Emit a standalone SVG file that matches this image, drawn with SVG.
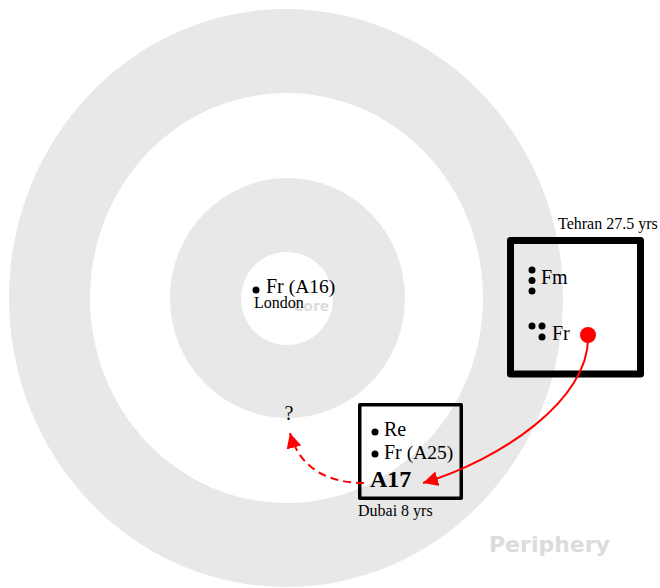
<svg xmlns="http://www.w3.org/2000/svg" width="660" height="588" viewBox="0 0 660 588">
  <style>
    .serif { font-family: "Liberation Serif", "Times New Roman", serif; fill: #000; }
    .lbl { font-size: 20px; }
    .sub { font-size: 19.5px; }
    .small { font-size: 16px; }
    .zone { font-family: "DejaVu Sans", "Liberation Sans", sans-serif; font-weight: bold; fill: #dcdcdc; }
    .box { fill: none; stroke: #000; stroke-linejoin: round; }
  </style>
  <defs>
    <marker id="arr" markerUnits="userSpaceOnUse" markerWidth="16" markerHeight="16" viewBox="0 0 16 16" refX="15" refY="8" orient="auto">
      <path d="M0,0.5 L15,8 L0,15.5 z" fill="#f00"/>
    </marker>
  </defs>
  <rect width="660" height="588" fill="#fff"/>
  <g id="zones">
    <ellipse cx="286" cy="298" rx="277" ry="289" fill="#e8e8e8"/>
    <ellipse cx="286.5" cy="298" rx="196.5" ry="205" fill="#fff"/>
    <ellipse cx="287.5" cy="298" rx="117.5" ry="120" fill="#e8e8e8"/>
    <ellipse cx="287" cy="298.5" rx="46" ry="46.5" fill="#fff"/>
    <text class="zone" x="293" y="311" font-size="14">Core</text>
    <text class="zone" x="489" y="552" font-size="22">Periphery</text>
  </g>
  <g id="london">
    <circle cx="256" cy="290" r="3.5" fill="#000"/>
    <text class="serif lbl" x="266" y="293">Fr <tspan class="sub">(A16)</tspan></text>
    <text class="serif small" x="254" y="308">London</text>
  </g>
  <g id="tehran">
    <text class="serif small" x="558" y="229">Tehran 27.5 yrs</text>
    <rect class="box" x="510.5" y="240.5" width="130" height="133.5" stroke-width="7"/>
    <circle cx="532" cy="270" r="3.5" fill="#000"/>
    <circle cx="532" cy="280.5" r="3.5" fill="#000"/>
    <circle cx="532" cy="291" r="3.5" fill="#000"/>
    <text class="serif lbl" x="541" y="284">Fm</text>
    <circle cx="532" cy="326" r="3.5" fill="#000"/>
    <circle cx="542" cy="326" r="3.5" fill="#000"/>
    <circle cx="542" cy="337" r="3.5" fill="#000"/>
    <text class="serif lbl" x="552" y="340">Fr</text>
    <circle cx="588" cy="335" r="8" fill="#f00"/>
  </g>
  <g id="dubai">
    <rect class="box" x="359.75" y="404.75" width="101.5" height="93.5" stroke-width="3.5"/>
    <circle cx="375" cy="432" r="3.5" fill="#000"/>
    <text class="serif lbl" x="384" y="436">Re</text>
    <circle cx="375" cy="454" r="3.5" fill="#000"/>
    <text class="serif lbl" x="384" y="459">Fr <tspan class="sub">(A25)</tspan></text>
    <text class="serif" x="370" y="487" font-size="24" font-weight="bold">A17</text>
    <text class="serif small" x="358" y="516">Dubai 8 yrs</text>
  </g>
  <g id="unknown">
    <text class="serif lbl" x="289" y="420" text-anchor="middle">?</text>
  </g>
  <g id="connectors" fill="none" stroke="#f00" stroke-width="2">
    <path d="M588,336 C590,400 500,460 423,483" marker-end="url(#arr)"/>
    <path d="M364,483 C330,483 300,470 290,433" stroke-dasharray="8,5" marker-end="url(#arr)"/>
  </g>
</svg>
